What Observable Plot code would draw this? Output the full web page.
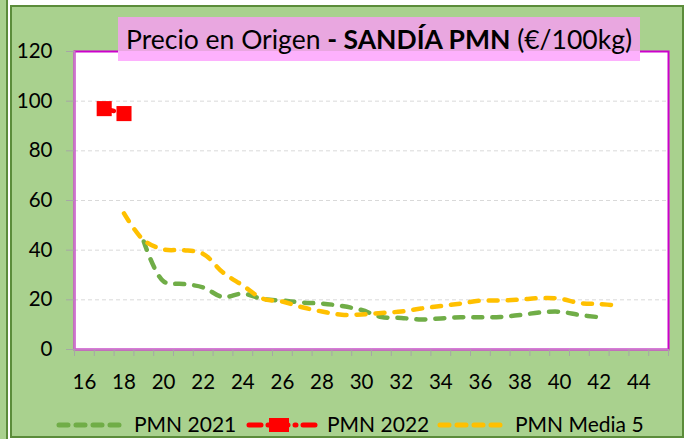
<!DOCTYPE html>
<html>
<head>
<meta charset="utf-8">
<script src="https://cdn.jsdelivr.net/npm/d3@7"></script>
<script src="https://cdn.jsdelivr.net/npm/@observablehq/plot@0.6"></script>
<style>
  body { margin: 0; background: #fff; }
  #wrap { position: relative; width: 690px; height: 439px; background: #fff; overflow: hidden; font-family: Lato, sans-serif; }
  #strip { position: absolute; left: 0; top: 0; width: 6px; height: 439px; background: #A9D18E; border-right: 2px solid #5b8c3a; }
  #box { position: absolute; left: 10px; top: 5px; width: 670px; height: 429px; background: #A9D18E; border: 2px solid #5b8c3a; }
  #chart { position: absolute; left: 0; top: 0; }
  #title { position: absolute; left: 118px; top: 17px; width: 522px; height: 44px;
           background: linear-gradient(to bottom, #E9A7E0 0px, #E9A7E0 34px, #FDB1FD 34px, #FDB1FD 44px);
           font-size: 26.5px; line-height: 44px; padding-left: 8px; box-sizing: border-box; white-space: nowrap; color: #000; }
  #title b { font-weight: 700; }
  .lg { position: absolute; top: 411px; font-size: 21px; line-height: 25px; white-space: nowrap; color: #000; }
  .sw { position: absolute; top: 415px; }
</style>
</head>
<body>
<div id="wrap">
  <div id="strip"></div>
  <div id="box"></div>
  <div id="chart"></div>
  <div id="title">Precio en Origen <b>- SANDÍA PMN</b> (€/100kg)</div>
  <svg class="sw" style="left:55px" width="74" height="20"><line x1="4" y1="10" x2="70" y2="10" stroke="#70AD47" stroke-width="5" stroke-dasharray="9,8" stroke-linecap="round"/></svg>
  <div class="lg" style="left:134px">PMN 2021</div>
  <svg class="sw" style="left:245px" width="76" height="20"><line x1="4" y1="10" x2="72" y2="10" stroke="#FF0000" stroke-width="5" stroke-dasharray="12,7,1,7" stroke-linecap="round"/><rect x="24" y="3" width="20" height="14" fill="#FF0000"/></svg>
  <div class="lg" style="left:327px">PMN 2022</div>
  <svg class="sw" style="left:436px" width="74" height="20"><line x1="4" y1="10" x2="70" y2="10" stroke="#FFC000" stroke-width="5" stroke-dasharray="9,8" stroke-linecap="round"/></svg>
  <div class="lg" style="left:515px">PMN Media 5</div>
</div>
<script>
const weeks2021 = [19,20,21,22,23,24,25,26,27,28,29,30,31,32,33,34,35,36,37,38,39,40,41,42];
const values2021 = [43.5,27.4,26.4,25,21.1,22.5,20.3,19.7,18.9,18.5,17.5,15.9,13.1,12.7,12.1,12.5,13,13,13.1,13.9,14.9,15.2,13.9,13];
const weeks2022 = [17,18];
const values2022 = [97,95];
const weeksMedia = [18,19,20,21,22,23,24,25,26,27,28,29,30,31,32,33,34,35,36,37,38,39,40,41,42,43];
const valuesMedia = [54.8,44,40.3,40,38.5,31,25.8,20.5,19.3,17,15.3,14,14.1,14.7,15.3,16.5,17.5,18.5,19.7,19.7,20.1,20.7,20.5,18.7,18.3,17.7];
const xTicks = [16,18,20,22,24,26,28,30,32,34,36,38,40,42,44];
const yTicks = [0,20,40,60,80,100,120];
const yGrid = [20,40,60,80,100];
const xCategoryEdges = d3.range(15.5, 46, 1);

const chart = Plot.plot({
  width: 690,
  height: 439,
  marginLeft: 74,
  marginRight: 22,
  marginTop: 51,
  marginBottom: 90,
  style: {background: "transparent", fontFamily: "Lato, sans-serif", fontSize: "20px", color: "#000", overflow: "visible"},
  x: {domain: [15.5, 45.5], axis: null},
  y: {domain: [0, 120], axis: null},
  marks: [
    Plot.frame({fill: "white"}),
    Plot.ruleY(yGrid, {stroke: "#d9d9d9", strokeWidth: 1, strokeDasharray: "4,3"}),
    Plot.frame({stroke: "#cc00cc", strokeWidth: 2}),
    Plot.ruleX([15.5], {stroke: "#c878c8", strokeWidth: 2}),
    Plot.ruleY([0], {stroke: "#c878c8", strokeWidth: 2}),
    Plot.axisY(yTicks, {tickSize: 8, tickPadding: 14, stroke: "#a6a6a6", fill: "#000", fontSize: 20.5}),
    Plot.axisX(xCategoryEdges, {tickSize: 7, tickFormat: () => "", stroke: "#a6a6a6"}),
    Plot.axisX(xTicks, {tickSize: 0, tickPadding: 25, fill: "#000", fontSize: 20.5}),
    Plot.line(values2021, {x: weeks2021, y: values2021, stroke: "#70AD47", strokeWidth: 4.5, strokeDasharray: "9,10", strokeLinecap: "round", curve: "catmull-rom"}),
    Plot.line(values2022, {x: weeks2022, y: values2022, stroke: "#FF0000", strokeWidth: 4.5, strokeDasharray: "10,7,1,7", strokeLinecap: "round"}),
    Plot.dot(values2022, {x: weeks2022, y: values2022, symbol: "square", r: 8.5, fill: "#FF0000", stroke: "none"}),
    Plot.line(valuesMedia, {x: weeksMedia, y: valuesMedia, stroke: "#FFC000", strokeWidth: 4.5, strokeDasharray: "9,10", strokeLinecap: "round", curve: "catmull-rom"})
  ]
});
document.getElementById("chart").appendChild(chart);
</script>
</body>
</html>
